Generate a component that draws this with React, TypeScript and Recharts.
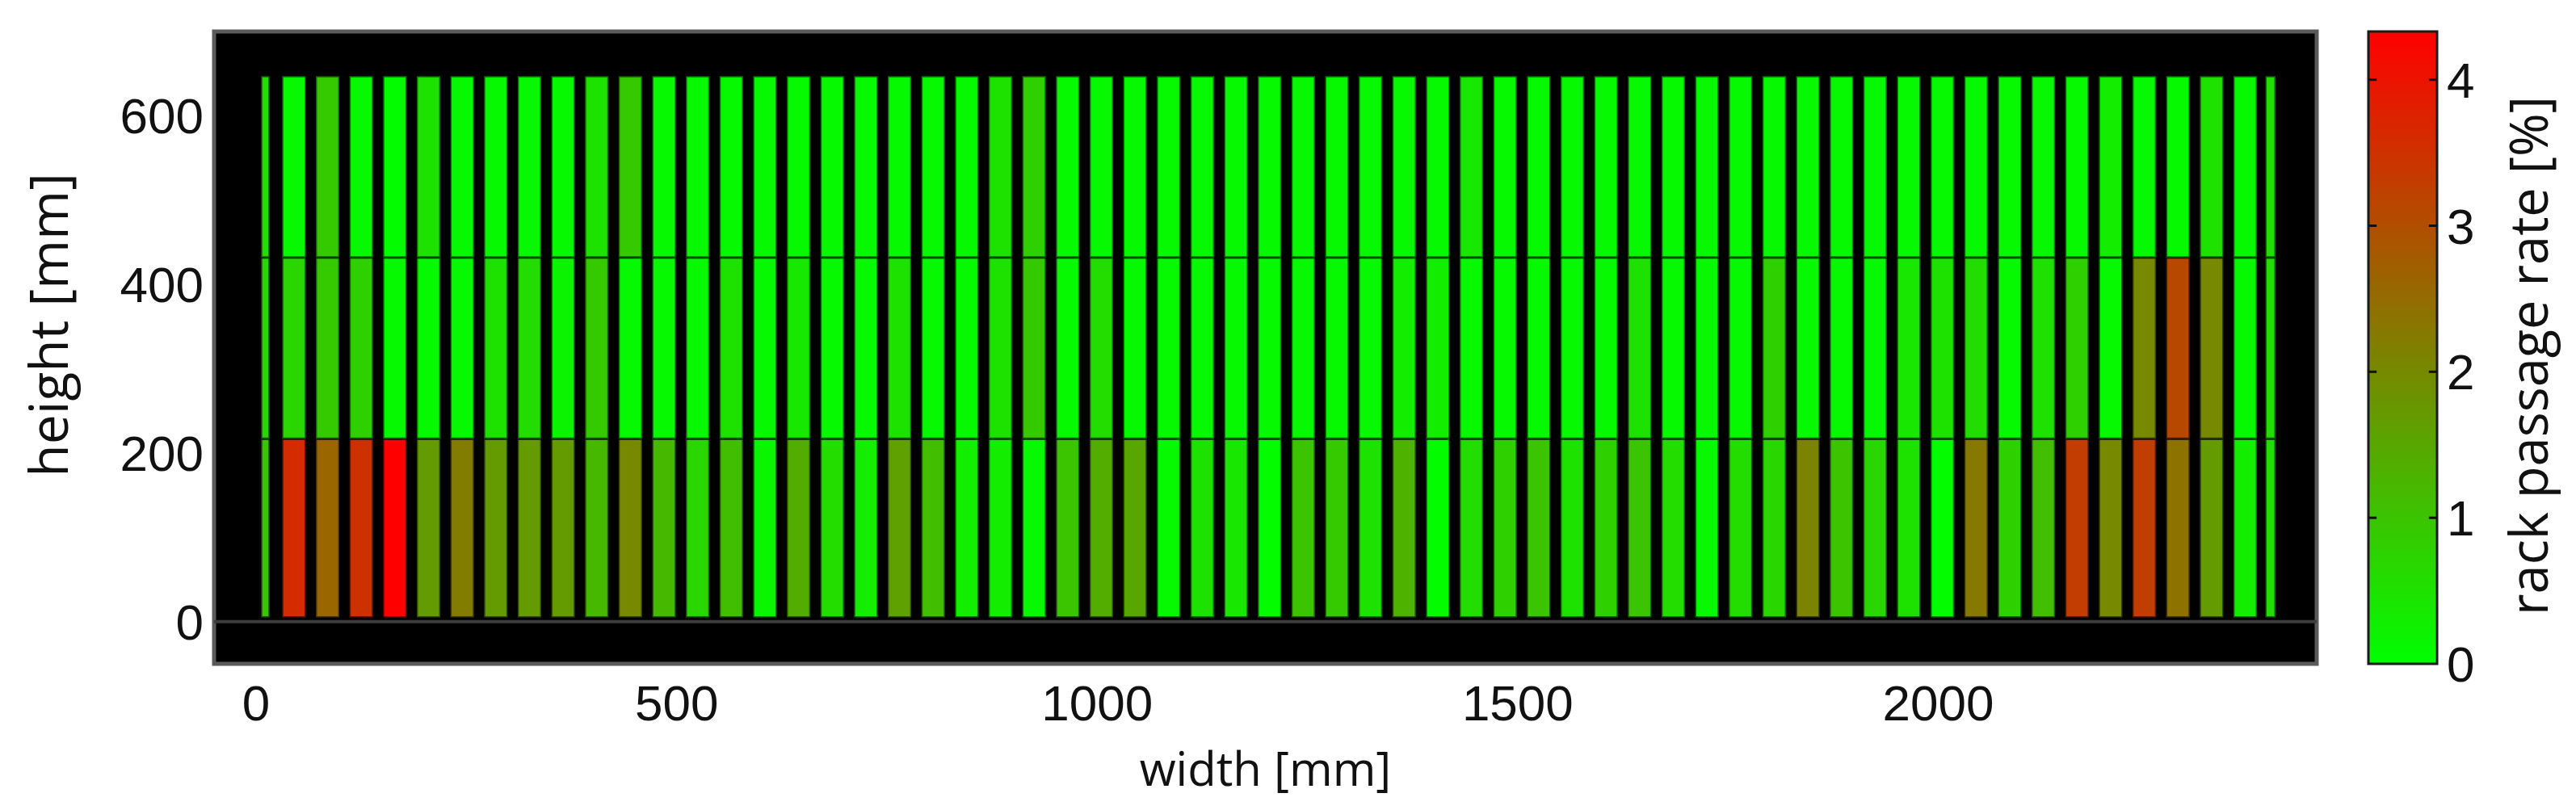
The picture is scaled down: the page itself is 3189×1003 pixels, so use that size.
import React from 'react';
import { ComposedChart, XAxis, YAxis, ReferenceArea, ReferenceLine } from 'recharts';

// rack columns (left / right edge in mm)
const columnLeft = [
  6, 31, 71, 111, 151, 191, 231, 271, 311, 351, 391, 431, 471, 511, 551, 591, 631, 671, 711, 751,
  791, 831, 871, 911, 951, 991, 1031, 1071, 1111, 1151, 1191, 1231, 1271, 1311, 1351, 1391, 1431,
  1471, 1511, 1551, 1591, 1631, 1671, 1711, 1751, 1791, 1831, 1871, 1911, 1951, 1991, 2031, 2071,
  2111, 2151, 2191, 2231, 2271, 2311, 2351, 2389,
];
const columnRight = [
  16, 59, 99, 139, 179, 219, 259, 299, 339, 379, 419, 459, 499, 539, 579, 619, 659, 699, 739, 779,
  819, 859, 899, 939, 979, 1019, 1059, 1099, 1139, 1179, 1219, 1259, 1299, 1339, 1379, 1419, 1459,
  1499, 1539, 1579, 1619, 1659, 1699, 1739, 1779, 1819, 1859, 1899, 1939, 1979, 2019, 2059, 2099,
  2139, 2179, 2219, 2259, 2299, 2339, 2379, 2401,
];

// rack rows (bottom / top edge in mm)
const rowBottom = [5, 217, 432];
const rowTop = [217, 432, 647];

// rack passage rate [%] per column, one list per row
const rateBottom = [
  1.0, 3.6, 2.6, 3.5, 4.33, 1.7, 2.2, 1.7, 1.7, 1.7, 1.2, 2.0, 1.2, 0.7, 1.1, 0.15, 1.4, 0.6, 0.3, 1.6,
  1.1, 0.3, 0.3, 0.1, 1.0, 1.4, 1.5, 0.1, 0.5, 0.4, 0.05, 1.0, 0.9, 0.5, 1.3, 0.05, 0.6, 0.8, 1.0, 0.5,
  0.8, 1.0, 0.6, 0.1, 0.6, 0.7, 2.1, 1.0, 0.7, 0.5, 0.05, 2.3, 0.8, 1.1, 3.3, 2.0, 3.3, 2.4, 1.7, 0.3,
  0.6,
];
const rateMiddle = [
  0.7, 0.7, 0.9, 0.8, 0.1, 0.1, 0.1, 0.5, 0.6, 0.2, 0.9, 0.1, 0.1, 0.1, 0.5, 0.1, 0.4, 0.1, 0.1, 0.5,
  0.1, 0.1, 0.5, 0.9, 0.1, 0.6, 0.1, 0.1, 0.1, 0.1, 0.1, 0.1, 0.1, 0.1, 0.3, 0.3, 0.1, 0.1, 0.1, 0.1,
  0.1, 0.5, 0.1, 0.1, 0.1, 0.8, 0.1, 0.1, 0.1, 0.4, 0.5, 0.6, 0.1, 0.5, 0.8, 0.1, 2.0, 3.1, 2.0, 0.1,
  0.6,
];
const rateTop = [
  0.6, 0.1, 0.9, 0.1, 0.05, 0.5, 0.1, 0.1, 0.1, 0.1, 0.5, 0.9, 0.1, 0.1, 0.1, 0.1, 0.1, 0.1, 0.1, 0.1,
  0.1, 0.1, 0.5, 0.8, 0.1, 0.1, 0.1, 0.1, 0.1, 0.1, 0.1, 0.1, 0.1, 0.1, 0.1, 0.1, 0.4, 0.1, 0.1, 0.1,
  0.1, 0.1, 0.1, 0.1, 0.1, 0.1, 0.1, 0.1, 0.1, 0.1, 0.1, 0.1, 0.1, 0.1, 0.1, 0.3, 0.1, 0.1, 0.5, 0.1,
  0.6,
];

const xTicks = [0, 500, 1000, 1500, 2000];
const yTicks = [0, 200, 400, 600];
const colorTicks = [0, 1, 2, 3, 4];
const colorInnerTicks = [1, 2, 3, 4];
const rateMax = 4.33;

const rows = [rateBottom, rateMiddle, rateTop];

const tickFont = { fontFamily: '"Liberation Sans", Arial, sans-serif', fontSize: 62, fill: '#111' };
const titleFont = '"Open Sans", "Noto Sans", sans-serif';

function rateColor(v: number) {
  const t = Math.min(1, Math.max(0, v / rateMax));
  const r = Math.round(255 * t);
  const g = Math.round(255 * (1 - t));
  return `rgb(${r},${g},0)`;
}

function MainChart() {
  const cells: React.ReactNode[] = [];
  rows.forEach((rates, r) => {
    rates.forEach((v, c) => {
      cells.push(
        <ReferenceArea
          key={`c-${r}-${c}`}
          x1={columnLeft[c]}
          x2={columnRight[c]}
          y1={rowBottom[r]}
          y2={rowTop[r]}
          fill={rateColor(v)}
          fillOpacity={1}
          stroke="#000"
          strokeOpacity={0.55}
          strokeWidth={3}
          ifOverflow="visible"
        />
      );
    });
  });
  return (
    <ComposedChart width={2870} height={987} margin={{ top: 31, right: 10, left: 0, bottom: 73 }} data={[]}>
      <XAxis
        type="number"
        dataKey="x"
        domain={[-50, 2450]}
        ticks={xTicks}
        tickLine={false}
        axisLine={false}
        tickSize={0}
        tickMargin={26}
        height={100}
        tick={tickFont}
        allowDataOverflow
        label={{
          content: (props: any) => {
            const vb = props.viewBox;
            return (
              <text
                x={vb.x + vb.width / 2}
                y={vb.y + 128}
                textAnchor="middle"
                dominantBaseline="central"
                style={{ fontFamily: titleFont, fontSize: 58, fill: '#111' }}
              >
                width [mm]
              </text>
            );
          },
        }}
      />
      <YAxis
        type="number"
        dataKey="y"
        domain={[-50, 700]}
        ticks={yTicks}
        tickLine={false}
        axisLine={false}
        tickSize={0}
        tickMargin={13}
        width={257}
        tick={tickFont}
        allowDataOverflow
        label={{
          content: (props: any) => {
            const vb = props.viewBox;
            const cx = vb.x + 50;
            const cy = vb.y + vb.height / 2 - 28;
            return (
              <text
                x={cx}
                y={cy}
                transform={`rotate(-90, ${cx}, ${cy})`}
                textAnchor="middle"
                dominantBaseline="central"
                style={{ fontFamily: titleFont, fontSize: 66, fill: '#111' }}
              >
                height [mm]
              </text>
            );
          },
        }}
      />
      <ReferenceArea
        x1={-50}
        x2={2450}
        y1={-50}
        y2={700}
        fill="#000"
        fillOpacity={1}
        stroke="#5a5a5a"
        strokeWidth={5}
        ifOverflow="visible"
      />
      <ReferenceLine y={0} stroke="#3c3c3c" strokeWidth={4} />
      {cells}
    </ComposedChart>
  );
}

function ColorBar() {
  return (
    <ComposedChart width={281} height={987} margin={{ top: 31, right: 0, left: 24, bottom: 173 }} data={[]}>
      <XAxis type="number" dataKey="x" domain={[0, 1]} hide allowDataOverflow />
      <YAxis
        type="number"
        dataKey="y"
        orientation="right"
        domain={[0, rateMax]}
        ticks={colorTicks}
        tickLine={false}
        axisLine={false}
        tickSize={0}
        tickMargin={12}
        width={172}
        tick={tickFont}
        allowDataOverflow
        label={{
          content: (props: any) => {
            const vb = props.viewBox;
            const cx = vb.x + 112;
            const cy = vb.y + vb.height / 2 + 10;
            return (
              <text
                x={cx}
                y={cy}
                transform={`rotate(-90, ${cx}, ${cy})`}
                textAnchor="middle"
                dominantBaseline="central"
                style={{ fontFamily: titleFont, fontSize: 65, fill: '#111' }}
              >
                rack passage rate [%]
              </text>
            );
          },
        }}
      />
      <ReferenceArea
        x1={0}
        x2={1}
        y1={0}
        y2={rateMax}
        fill="url(#rateGradient)"
        fillOpacity={1}
        stroke="#1a1a1a"
        strokeWidth={3}
        ifOverflow="visible"
      />
      {colorInnerTicks.map((t) => (
        <ReferenceLine
          key={`tl-${t}`}
          segment={[
            { x: 0, y: t },
            { x: 0.12, y: t },
          ]}
          stroke="#111"
          strokeWidth={3}
          ifOverflow="visible"
        />
      ))}
      {colorInnerTicks.map((t) => (
        <ReferenceLine
          key={`tr-${t}`}
          segment={[
            { x: 0.88, y: t },
            { x: 1, y: t },
          ]}
          stroke="#111"
          strokeWidth={3}
          ifOverflow="visible"
        />
      ))}
    </ComposedChart>
  );
}

export default function App() {
  return (
    <div style={{ position: 'relative', width: 3173, height: 987, background: '#fff' }}>
      <svg width={0} height={0} style={{ position: 'absolute' }}>
        <defs>
          <linearGradient id="rateGradient" x1="0" y1="1" x2="0" y2="0">
            <stop offset="0%" stopColor="#00ff00" />
            <stop offset="100%" stopColor="#ff0000" />
          </linearGradient>
        </defs>
      </svg>
      <div style={{ position: 'absolute', left: 0, top: 0 }}>
        <MainChart />
      </div>
      <div style={{ position: 'absolute', left: 2900, top: 0 }}>
        <ColorBar />
      </div>
    </div>
  );
}
